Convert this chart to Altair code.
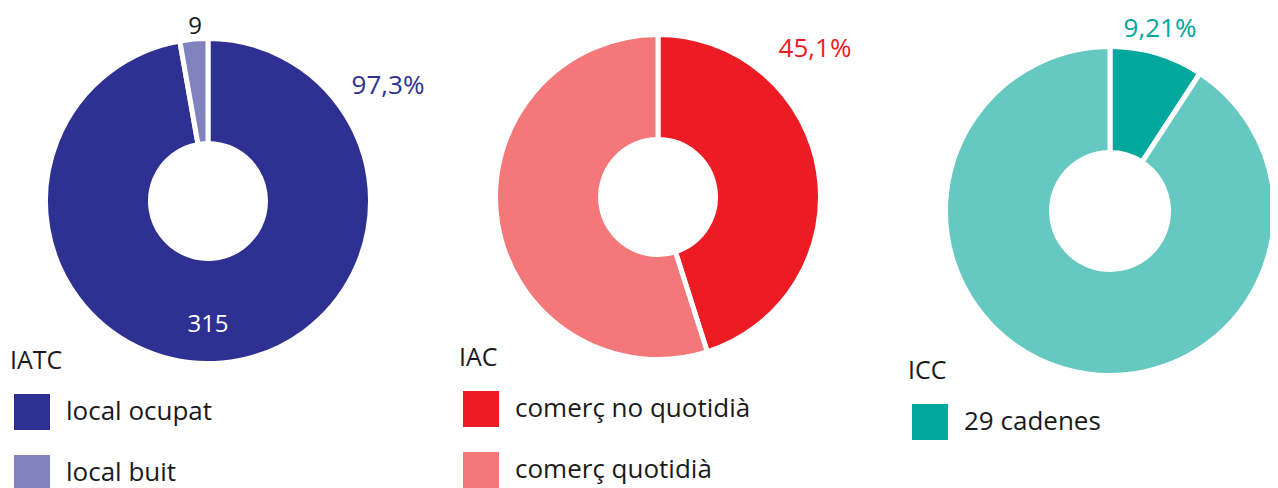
import altair as alt
import pandas as pd

FONT = "Open Sans"

# Data
iatc_cats = ["local ocupat", "local buit"]
iatc_vals = [315, 9]
iatc_colors = ["#2E3192", "#8083BD"]

iac_cats = ["comerç no quotidià", "comerç quotidià"]
iac_vals = [45.1, 54.9]
iac_colors = ["#ED1C24", "#F4777A"]

icc_cats = ["29 cadenes", "altres"]
icc_vals = [9.21, 90.79]
icc_colors = ["#00A79D", "#66C9C1"]

titles = ["IATC", "IAC", "ICC"]
pct_labels = ["97,3%", "45,1%", "9,21%"]
count_labels = ["315", "9"]


def donut(cats, vals, colors, title, cx, cy, r_out, r_in, lx, ly, legend_values=None):
    df = pd.DataFrame({"cat": cats, "val": vals, "idx": list(range(len(cats)))})
    leg_kwargs = dict(
        title=title,
        orient="none",
        legendX=lx,
        legendY=ly,
        symbolType="square",
        symbolSize=1296,
        symbolStrokeWidth=0,
        symbolOpacity=1,
        symbolOffset=4,
        titleFont=FONT,
        titleFontSize=25,
        titleFontWeight="normal",
        titleColor="#1a1a1a",
        titlePadding=20,
        labelFont=FONT,
        labelFontSize=26,
        labelColor="#1a1a1a",
        labelOffset=16,
        rowPadding=25,
        padding=0,
        labelLimit=400,
    )
    if legend_values is not None:
        leg_kwargs["values"] = legend_values
    return (
        alt.Chart(df)
        .mark_arc(outerRadius=r_out, innerRadius=r_in, stroke="white", strokeWidth=5)
        .encode(
            theta=alt.Theta("val:Q", stack=True),
            order=alt.Order("idx:Q"),
            color=alt.Color(
                "cat:N",
                scale=alt.Scale(domain=cats, range=colors),
                legend=alt.Legend(**leg_kwargs),
            ),
            x=alt.value(cx),
            y=alt.value(cy),
        )
    )


def label(text, x, y, color, size=26):
    df = pd.DataFrame({"t": [text]})
    return (
        alt.Chart(df)
        .mark_text(font=FONT, fontSize=size, color=color, align="center", baseline="middle")
        .encode(text="t:N", x=alt.value(x), y=alt.value(y))
    )


d1 = donut(iatc_cats, iatc_vals, iatc_colors, titles[0], 200, 193, 162.5, 57.5, 2, 341)
d2 = donut(iac_cats, iac_vals, iac_colors, titles[1], 650, 189, 162.5, 57.5, 451, 338)
d3 = donut(icc_cats, icc_vals, icc_colors, titles[2], 1102, 203, 164.5, 58.5, 900, 351,
           legend_values=["29 cadenes"])

labels = [
    label(pct_labels[0], 380, 78, "#2E3192"),
    label(count_labels[0], 200, 317, "white", 24),
    label(count_labels[1], 187, 19, "#1a1a1a", 24),
    label(pct_labels[1], 807, 41, "#ED1C24"),
    label(pct_labels[2], 1152, 21, "#00A79D"),
]

chart = (
    alt.layer(d1, d2, d3, *labels)
    .resolve_scale(theta="independent", color="independent")
    .properties(width=1262, height=480, autosize=alt.AutoSizeParams(type="none"), padding=0)
    .configure_view(stroke=None)
)

chart.save("out.html", embed_options={"renderer": "svg", "actions": False})
